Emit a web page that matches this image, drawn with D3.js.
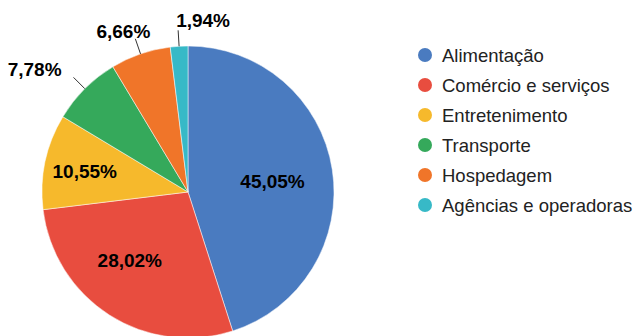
<!DOCTYPE html>
<html>
<head>
<meta charset="utf-8">
<script src="https://cdn.jsdelivr.net/npm/d3@7"></script>
<style>
body{margin:0;background:#fff;}
text{font-family:"Liberation Sans",Arial,sans-serif;}
</style>
</head>
<body>
<script>
const w=635;
const h=336;

const categories=["Alimentação","Comércio e serviços","Entretenimento","Transporte","Hospedagem","Agências e operadoras"];
const values=[45.05,28.02,10.55,7.78,6.66,1.94];
const colors=["#4a7bc0","#e84d3f","#f6b92c","#35a95b","#f07529","#37b9c7"];

const cx=188, cy=192, r=146;

let svg=d3.select("body").append("svg")
  .attr("width",w)
  .attr("height",h);

let pie=d3.pie().sort(null).value(d=>d);
let arcs=pie(values);
let arc=d3.arc().innerRadius(0).outerRadius(r);

let g=svg.append("g").attr("transform","translate("+cx+","+cy+")");

g.selectAll("path")
  .data(arcs)
  .enter()
  .append("path")
  .attr("d",arc)
  .attr("fill",(d,i)=>colors[i])
  .attr("stroke","#fff")
  .attr("stroke-width",0.5);

const fmt=v=>v.toFixed(2).replace(".",",")+"%";

// small nudges so labels sit where the original put them
const nudge=[[-2,3],[-11,-5],[1,2],[-8,0],[-12,7],[0,1]];

arcs.forEach((d,i)=>{
  let mid=(d.startAngle+d.endAngle)/2;
  if(d.data>10){
    let k=i==2?0.73:0.6;
    let x=Math.sin(mid)*r*k+nudge[i][0], y=-Math.cos(mid)*r*k+nudge[i][1];
    g.append("text")
      .attr("x",x).attr("y",y)
      .attr("text-anchor","middle")
      .attr("dominant-baseline","central")
      .attr("font-size","19px")
      .attr("font-weight","bold")
      .text(fmt(d.data));
  } else {
    let x1=Math.sin(mid)*r, y1=-Math.cos(mid)*r;
    let x2=Math.sin(mid)*(r+16), y2=-Math.cos(mid)*(r+16);
    g.append("line")
      .attr("x1",x1).attr("y1",y1)
      .attr("x2",x2).attr("y2",y2)
      .attr("stroke","#333").attr("stroke-width",1);
    let tx=x2, ty=y2;
    let anchor="middle";
    if(i==3){anchor="end";tx=x2-4;ty=y2-8;}
    if(i==4){ty=y2-14;}
    if(i==5){anchor="start";tx=x2-2;ty=y2-11;}
    g.append("text")
      .attr("x",tx+nudge[i][0]).attr("y",ty+nudge[i][1])
      .attr("text-anchor",anchor)
      .attr("dominant-baseline","central")
      .attr("font-size","19px")
      .attr("font-weight","bold")
      .text(fmt(d.data));
  }
});

// legend
let legend=svg.append("g").attr("transform","translate(425,55)");
let rows=legend.selectAll("g")
  .data(categories)
  .enter()
  .append("g")
  .attr("transform",(d,i)=>"translate(0,"+(i*30)+")");
rows.append("circle")
  .attr("r",7)
  .attr("fill",(d,i)=>colors[i]);
rows.append("text")
  .attr("x",17)
  .attr("dominant-baseline","central")
  .attr("font-size","18.5px")
  .attr("fill","#222")
  .text(d=>d);
</script>
</body>
</html>
